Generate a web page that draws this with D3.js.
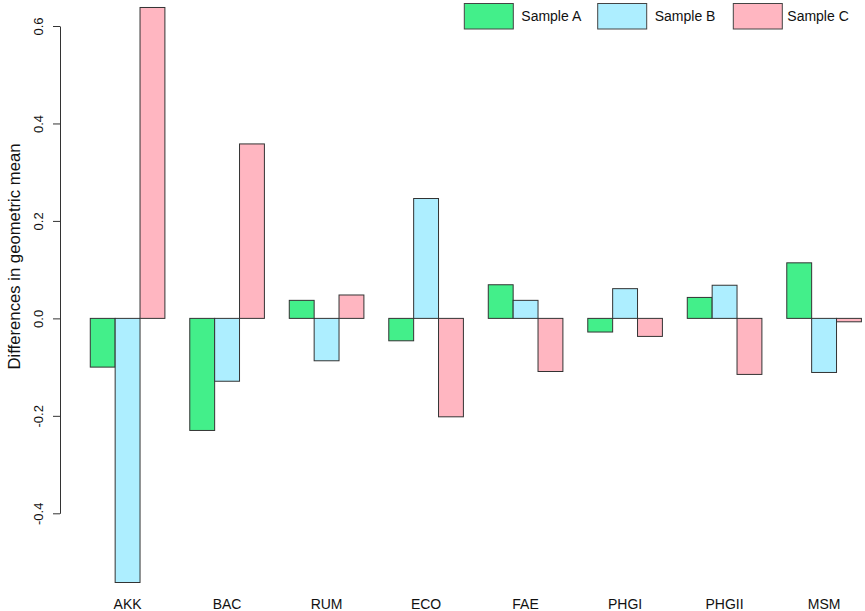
<!DOCTYPE html>
<html>
<head>
<meta charset="utf-8">
<script src="https://cdn.jsdelivr.net/npm/d3@7"></script>
<style>
  body { margin: 0; background: #fff; }
  text { font-family: "Liberation Sans", Arial, sans-serif; fill: #111; }
</style>
</head>
<body>
<div id="container"></div>
<script>
const widthSVG = 865,
    heightSVG = 611;

// data
const categories = ["AKK", "BAC", "RUM", "ECO", "FAE", "PHGI", "PHGII", "MSM"];
const series = ["Sample A", "Sample B", "Sample C"];
const sampleA = [-0.100, -0.230, 0.037, -0.046, 0.069, -0.028, 0.043, 0.114];
const sampleB = [-0.542, -0.129, -0.087, 0.246, 0.037, 0.061, 0.068, -0.111];
const sampleC = [0.638, 0.358, 0.048, -0.202, -0.109, -0.037, -0.115, -0.007];
const yTicks = [-0.4, -0.2, 0.0, 0.2, 0.4, 0.6];
const colors = ["#43EF8A", "#ADEEFF", "#FFB6C1"];

const values = [sampleA, sampleB, sampleC];

const svg = d3.select('#container')
    .append('svg')
    .attr('width', widthSVG)
    .attr('height', heightSVG);

const yScale = d3.scaleLinear()
    .domain([-0.4, 0.6])
    .range([513.3, 26]);

// R style barplot: one empty bar width before each group
const xScale = d3.scaleBand()
    .domain(categories)
    .range([65.4, 861.4])
    .paddingInner(0.25)
    .paddingOuter(0.125)
    .align(1);

const xInner = d3.scaleBand()
    .domain(series)
    .range([0, xScale.bandwidth()]);

// y axis (plain hyphen for negatives, like R)
const yAxis = svg.append('g')
    .attr('transform', 'translate(60,0)')
    .call(d3.axisLeft(yScale).tickValues(yTicks).tickFormat(d => d.toFixed(1)).tickSize(7).tickSizeOuter(0));

yAxis.select('.domain').attr('stroke', '#333');
yAxis.selectAll('.tick line').attr('stroke', '#333');
yAxis.selectAll('.tick text')
    .attr('x', 0)
    .attr('y', 0)
    .attr('dy', null)
    .attr('transform', 'translate(-17,0) rotate(-90)')
    .attr('text-anchor', 'middle')
    .style('font-size', '13px')
    .style('font-family', '"Liberation Sans", Arial, sans-serif')
    .attr('fill', '#222');

svg.append('text')
    .attr('transform', 'translate(20,256.5) rotate(-90)')
    .attr('text-anchor', 'middle')
    .style('font-size', '16.7px')
    .text('Differences in geometric mean');

// bars
const groups = svg.append('g')
    .selectAll('g')
    .data(categories)
    .enter()
    .append('g')
    .attr('transform', d => `translate(${xScale(d)},0)`);

groups.selectAll('rect')
    .data((d, i) => series.map((s, j) => ({ s: s, v: values[j][i], c: colors[j] })))
    .enter()
    .append('rect')
    .attr('x', d => xInner(d.s))
    .attr('y', d => yScale(Math.max(0, d.v)))
    .attr('width', xInner.bandwidth())
    .attr('height', d => Math.abs(yScale(d.v) - yScale(0)))
    .attr('fill', d => d.c)
    .attr('stroke', '#333')
    .attr('stroke-width', 1);

// category labels, no axis line
svg.append('g')
    .selectAll('text')
    .data(categories)
    .enter()
    .append('text')
    .attr('x', d => xScale(d) + xScale.bandwidth() / 2)
    .attr('y', 609)
    .attr('text-anchor', 'middle')
    .style('font-size', '14px')
    .text(d => d);

// legend
const legendX = [464.3, 597.7, 733.3];
const legend = svg.append('g')
    .selectAll('g')
    .data(series)
    .enter()
    .append('g')
    .attr('transform', (d, i) => `translate(${legendX[i]},3.5)`);

legend.append('rect')
    .attr('width', 49)
    .attr('height', 25.5)
    .attr('fill', (d, i) => colors[i])
    .attr('stroke', '#444')
    .attr('stroke-width', 1);

legend.append('text')
    .attr('x', (d, i) => i === 2 ? 54 : 57)
    .attr('y', 17.5)
    .style('font-size', '14px')
    .text(d => d);
</script>
</body>
</html>
